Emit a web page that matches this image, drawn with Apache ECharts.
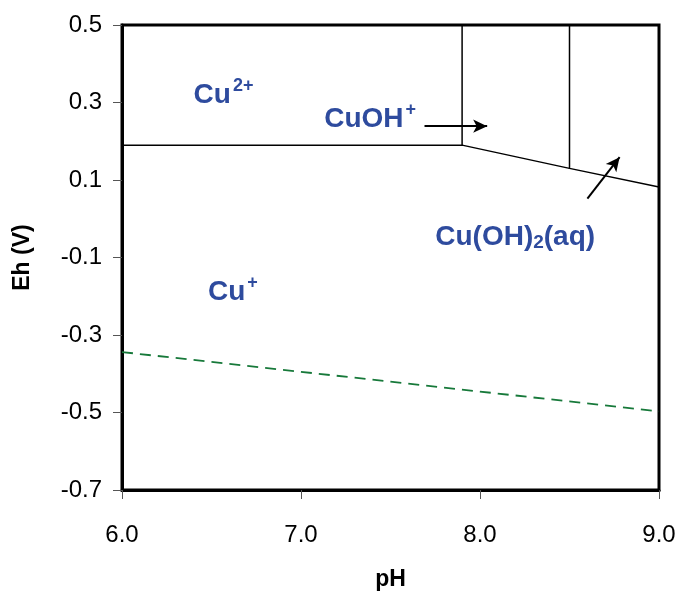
<!DOCTYPE html>
<html>
<head>
<meta charset="utf-8">
<script src="https://cdn.jsdelivr.net/npm/echarts@6/dist/echarts.min.js"></script>
<style>html,body{margin:0;padding:0;background:#fff}#c{width:680px;height:596px}</style>
</head>
<body>
<div id="c"></div>
<script>
// Boundary lines (pH, Eh)
const cuBoundary = [[6.0, 0.19], [7.9, 0.19], [8.5, 0.13], [9.0, 0.082]];
const cuohLeft = [[7.9, 0.19], [7.9, 0.5]];
const cuohRight = [[8.5, 0.13], [8.5, 0.5]];
const waterLine = [[6.0, -0.344], [9.0, -0.497]];
// Arrows: [start, end]
const arrow1 = [[7.69, 0.239], [8.04, 0.239]];
const arrow2 = [[8.60, 0.052], [8.78, 0.159]];
// Species labels: [pH, Eh, rich text]
const labels = [
  [6.40, 0.318, '{b|Cu}{sup|2+}'],
  [7.13, 0.257, '{b|CuOH}{sup|+}'],
  [7.75, -0.048, '{b|Cu(OH)}{sub|2}{b|(aq)}'],
  [6.48, -0.190, '{b|Cu}{sup|+}']
];
const xTicks = [6, 7, 8, 9];
const yTicks = [-0.7, -0.5, -0.3, -0.1, 0.1, 0.3, 0.5];

const blue = '#2E4B9E';
const font = 'Liberation Sans, Arial, sans-serif';
const chart = echarts.init(document.getElementById('c'), null, {renderer: 'canvas'});

function seg(data) {
  return {type: 'line', data: data, symbol: 'none', lineStyle: {color: '#000', width: 1.5}, silent: true, z: 3};
}

chart.setOption({
  animation: false,
  grid: {left: 122, right: 21, top: 25, bottom: 101, show: true, borderColor: '#000', borderWidth: 3, backgroundColor: '#fff'},
  xAxis: {
    type: 'value', min: 6, max: 9, interval: 1,
    name: 'pH', nameLocation: 'middle', nameGap: 78,
    nameTextStyle: {fontFamily: font, fontSize: 23, fontWeight: 'bold', color: '#000'},
    axisLine: {show: true, onZero: false, lineStyle: {color: '#000', width: 3}},
    axisTick: {show: true, inside: false, length: 9, lineStyle: {color: '#555', width: 1}},
    axisLabel: {fontFamily: font, fontSize: 24, color: '#000', margin: 33, formatter: v => v.toFixed(1)},
    splitLine: {show: false}
  },
  yAxis: {
    type: 'value', min: -0.7, max: 0.5, interval: 0.2,
    name: 'Eh (V)', nameLocation: 'middle', nameGap: 88,
    nameTextStyle: {fontFamily: font, fontSize: 23, fontWeight: 'bold', color: '#000'},
    axisLine: {show: true, onZero: false, lineStyle: {color: '#000', width: 3}},
    axisTick: {show: true, inside: false, length: 9, lineStyle: {color: '#555', width: 1}},
    axisLabel: {fontFamily: font, fontSize: 24, color: '#000', margin: 20, formatter: v => v.toFixed(1)},
    splitLine: {show: false}
  },
  series: [
    seg(cuBoundary),
    seg(cuohLeft),
    seg(cuohRight),
    {type: 'line', data: waterLine, symbol: 'none', silent: true,
     lineStyle: {color: '#17793A', width: 1.8, type: [11, 7]}},
    {type: 'line', data: [], silent: true,
     markLine: {silent: true, symbol: ['none', 'arrow'], symbolSize: [10, 14], label: {show: false},
       lineStyle: {color: '#000', width: 2, type: 'solid'},
       data: [
         [{coord: arrow1[0]}, {coord: arrow1[1]}],
         [{coord: arrow2[0]}, {coord: arrow2[1]}]
       ]}},
    {type: 'scatter', symbolSize: 0, silent: true, z: 5, itemStyle: {opacity: 1},
     data: labels.map(l => ({value: [l[0], l[1]], label: {formatter: l[2]}})),
     label: {show: true, position: 'inside', align: 'left', verticalAlign: 'middle', offset: [0, 0], opacity: 1,
       rich: {
         b: {fontFamily: font, fontSize: 28, fontWeight: 'bold', color: blue},
         sup: {fontFamily: font, fontSize: 18, fontWeight: 'bold', color: blue, padding: [0, 0, 18, 2]},
         sub: {fontFamily: font, fontSize: 19, fontWeight: 'bold', color: blue, padding: [10, 0, 0, 0]}
       }}}
  ]
});
</script>
</body>
</html>
